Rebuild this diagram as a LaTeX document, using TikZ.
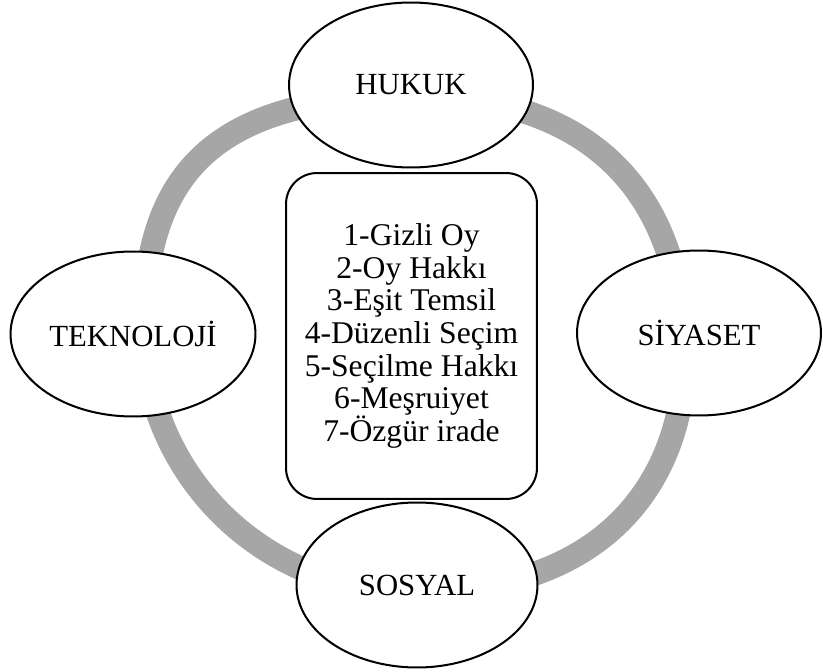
\documentclass[tikz,border=0pt]{standalone}
\usepackage{fontspec}
\setmainfont{Liberation Serif}
\usetikzlibrary{shapes.geometric}
\definecolor{ringgray}{RGB}{166,166,166}
\tikzset{
  ringline/.style={draw=ringgray, line width=0.48cm, line join=round},
  topic/.style={draw=black, line width=1.15pt, fill=white, ellipse, inner sep=0pt,
    font=\fontsize{17.5}{20}\selectfont},
  centerbox/.style={draw=black, line width=1.15pt, fill=white, rounded corners=0.62cm,
    inner sep=0pt, align=center, font=\fontsize{18}{18.6}\selectfont}
}
\begin{document}
\begin{tikzpicture}[x=0.02cm, y=-0.02cm]
\useasboundingbox (0,0) rectangle (823,672);
% ring (runs beneath the four topic ellipses)
\coordinate (rT) at (415,96);
\coordinate (rL) at (144,330);
\coordinate (rB) at (415,592);
\coordinate (rR) at (684,360);
\draw[ringline] (rT) .. controls (204,96) and (144,183) .. (rL)
  .. controls (144,466) and (255,592) .. (rB)
  .. controls (628,592) and (684,455) .. (rR)
  .. controls (684,191) and (588,96) .. (rT) -- cycle;
% nodes
\node[topic, minimum width=4.88cm, minimum height=3.3cm] (huk) at (411,85) {HUKUK};
\node[topic, minimum width=4.9cm, minimum height=3.3cm] (tek) at (133,334) {TEKNOLOJİ};
\node[topic, minimum width=4.88cm, minimum height=3.3cm] (siy) at (699,333) {SİYASET};
\node[topic, minimum width=4.82cm, minimum height=3.3cm] (sos) at (417,585) {SOSYAL};
\node[centerbox, minimum width=5.02cm, minimum height=6.52cm] (box) at (411.5,336)
  {1-Gizli Oy\\2-Oy Hakkı\\3-Eşit Temsil\\4-Düzenli Seçim\\5-Seçilme Hakkı\\6-Meşruiyet\\7-Özgür irade};
\end{tikzpicture}
\end{document}
